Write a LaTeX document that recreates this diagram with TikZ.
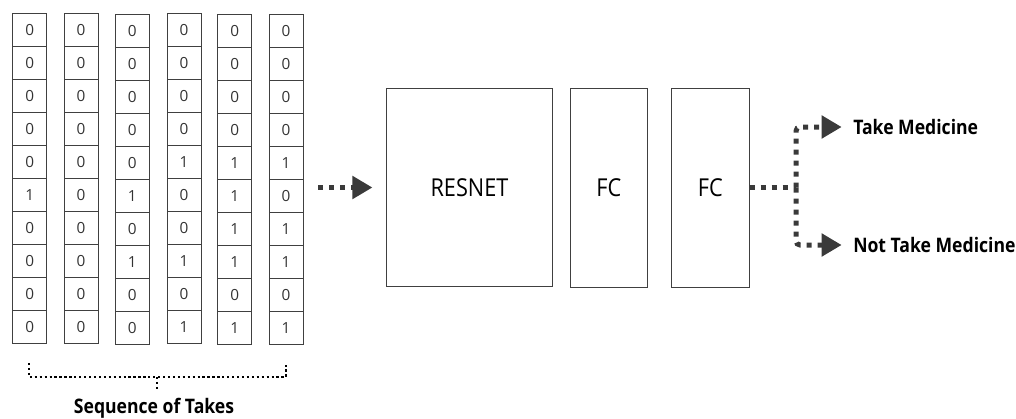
\documentclass[tikz,border=0pt]{standalone}
\usepackage{fontspec}
\setmainfont{Open Sans}
\newfontfamily\labfont[FakeStretch=0.88]{Open Sans}
\usetikzlibrary{arrows.meta}
\definecolor{ink}{HTML}{404040}
\definecolor{dots}{HTML}{3A3A3A}
\begin{document}
\begin{tikzpicture}[x=0.75pt,y=-0.75pt,
  cell/.style={draw=ink, line width=0.7pt, minimum width=25.5pt, minimum height=24.75pt,
    inner sep=0pt, font=\fontsize{11.5}{12}\selectfont, text=black!80},
  layerbox/.style={draw=ink, line width=0.8pt, inner sep=0pt, minimum height=149pt,
    font=\labfont\fontsize{18.5}{20}\selectfont, text=black},
  flow/.style={draw=dots, line width=3.75pt, dash pattern=on 3.75pt off 4.5pt,
    -{Triangle[length=15pt,width=16.5pt]}},
  flowline/.style={draw=dots, line width=3.75pt, dash pattern=on 3.75pt off 4.5pt},
  brk/.style={draw=black, line width=1.7pt, dash pattern=on 1.7pt off 2pt},
  outlabel/.style={inner sep=0pt, anchor=west, font=\labfont\bfseries\fontsize{15}{18}\selectfont},
]
\useasboundingbox (0,0) rectangle (1016,418);

% input sequence columns
\foreach \v [count=\j] in {0,0,0,0,0,1,0,0,0,0}
  \node[cell] (c1-\j) at (29.7,{33*\j-2.7}) {\v};
\foreach \v [count=\j] in {0,0,0,0,0,0,0,0,0,0}
  \node[cell] (c2-\j) at (81,{33*\j-2.9}) {\v};
\foreach \v [count=\j] in {0,0,0,0,0,1,0,1,0,0}
  \node[cell] (c3-\j) at (132.3,{33*\j-2.2}) {\v};
\foreach \v [count=\j] in {0,0,0,0,1,0,0,1,0,1}
  \node[cell] (c4-\j) at (184,{33*\j-2.9}) {\v};
\foreach \v [count=\j] in {0,0,0,0,1,1,1,1,0,1}
  \node[cell] (c5-\j) at (234.8,{33*\j-2.2}) {\v};
\foreach \v [count=\j] in {0,0,0,0,1,0,1,1,0,1}
  \node[cell] (c6-\j) at (286,{33*\j-2.2}) {\v};

% bracket
\coordinate (bl) at (29,363);
\coordinate (blc) at (29,377);
\coordinate (brc) at (286,377);
\coordinate (br) at (286,363);
\coordinate (bmt) at (157,377);
\coordinate (bm) at (157,389);
\draw[brk] (bl) -- (blc) -- (brc) -- (br);
\draw[brk] (bmt) -- (bm);
\node[font=\labfont\bfseries\fontsize{15}{17}\selectfont] (seq) at (154,408) {Sequence of Takes};

% network
\node[layerbox, minimum width=124.2pt] (resnet) at (469.5,187.5) {RESNET};
\node[layerbox, minimum width=57.75pt] (fc1) at (608.8,187.7) {FC};
\node[layerbox, minimum width=58pt] (fc2) at (710.4,187.7) {FC};

\coordinate (in) at (318,187.5);
\draw[flow, shorten >=10.3pt] (in) -- (resnet.west);

% outputs
\coordinate (split) at (796,187.7);
\node[outlabel] (take) at (853,127) {Take Medicine};
\node[outlabel] (nottake) at (853,245) {Not Take Medicine};
\draw[flowline] (fc2.east) -- (split);
\draw[flow, rounded corners=3pt, shorten >=8.5pt] (split) |- (take.west);
\draw[flow, rounded corners=3pt, shorten >=8.5pt] (split) |- (nottake.west);
\end{tikzpicture}
\end{document}
